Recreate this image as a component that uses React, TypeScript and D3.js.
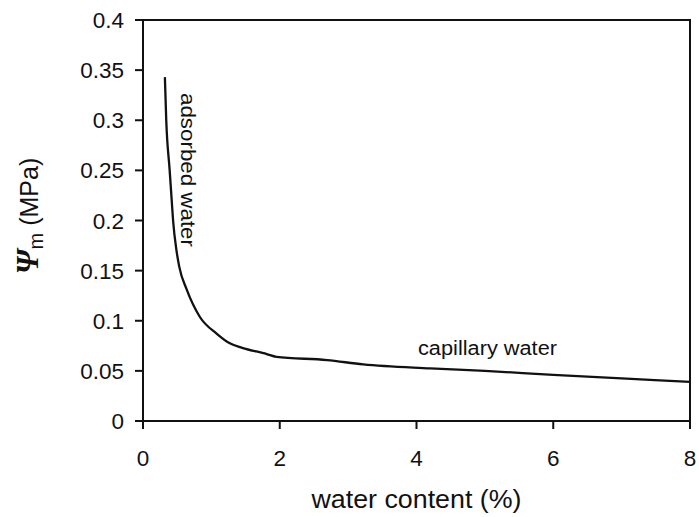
import React from "react";
import * as d3 from "d3";

// Soil water retention curve: matric potential vs water content
const waterContent = [0.32, 0.34, 0.39, 0.42, 0.44, 0.49, 0.53, 0.64, 0.83, 1.08, 1.27, 1.45, 1.81, 1.95, 2.69, 3.22, 4.2, 5, 6, 7, 8];
const potential = [0.343, 0.3, 0.25, 0.22, 0.2, 0.17, 0.154, 0.131, 0.104, 0.087, 0.0775, 0.073, 0.0668, 0.064, 0.0608, 0.0565, 0.0525, 0.05, 0.046, 0.0425, 0.039];

const xTicks = [0, 2, 4, 6, 8];
const yTicks = [0, 0.05, 0.1, 0.15, 0.2, 0.25, 0.3, 0.35, 0.4];
const yTickLabels = ["0", "0.05", "0.1", "0.15", "0.2", "0.25", "0.3", "0.35", "0.4"];

const W = 699;
const H = 517;
const left = 143;
const right = 690;
const top = 20;
const bottom = 421;
const font = "Liberation Sans, Arial, Helvetica, sans-serif";

export default function App() {
  const x = d3.scaleLinear().domain([0, 8]).range([left, right]);
  const y = d3.scaleLinear().domain([0, 0.4]).range([bottom, top]);
  const pts: [number, number][] = waterContent.map((w, i) => [w, potential[i]]);
  const line = d3
    .line<[number, number]>()
    .x((d) => x(d[0]))
    .y((d) => y(d[1]))
    .curve(d3.curveMonotoneX);

  return (
    <svg
      width={W}
      height={H}
      style={{ position: "absolute", left: 0, top: 0, background: "#fff" }}
      fontFamily={font}
    >
      <rect x={0} y={0} width={W} height={H} fill="#fff" />
      {/* frame */}
      <rect x={left} y={top} width={right - left} height={bottom - top} fill="none" stroke="#111" strokeWidth={2} />

      {/* y ticks and labels */}
      {yTicks.map((t, i) => (
        <g key={"y" + i}>
          <line x1={left - 8} x2={left} y1={y(t)} y2={y(t)} stroke="#111" strokeWidth={2} />
          <text x={124} y={y(t) + 8} textAnchor="end" fontSize={22.5} fill="#111">
            {yTickLabels[i]}
          </text>
        </g>
      ))}

      {/* x ticks and labels */}
      {xTicks.map((t) => (
        <g key={"x" + t}>
          <line x1={x(t)} x2={x(t)} y1={bottom} y2={bottom + 8} stroke="#111" strokeWidth={2} />
          <text x={x(t)} y={466} textAnchor="middle" fontSize={22.5} fill="#111">
            {t}
          </text>
        </g>
      ))}

      {/* curve */}
      <path d={line(pts) ?? ""} fill="none" stroke="#111" strokeWidth={2.3} strokeLinejoin="round" />

      {/* annotations */}
      <text
        transform={`translate(181,93) rotate(90)`}
        fontSize={21}
        fill="#111"
        textLength={154}
        lengthAdjust="spacingAndGlyphs"
      >
        adsorbed water
      </text>
      <text x={418} y={355} fontSize={20} fill="#111" textLength={139} lengthAdjust="spacingAndGlyphs">
        capillary water
      </text>

      {/* axis titles */}
      <text x={(left + right) / 2} y={508} textAnchor="middle" fontSize={25} fill="#111" textLength={210} lengthAdjust="spacingAndGlyphs">
        water content (%)
      </text>
      <text transform={`translate(38,216) rotate(-90)`} textAnchor="middle" fill="#111">
        <tspan fontFamily="Liberation Serif, Times New Roman, serif" fontWeight="bold" fontStyle="italic" fontSize={31}>
          Ψ
        </tspan>
        <tspan fontSize={20} dy={5}>
          m
        </tspan>
        <tspan fontSize={25} dy={-5}>
          {" (MPa)"}
        </tspan>
      </text>
    </svg>
  );
}
